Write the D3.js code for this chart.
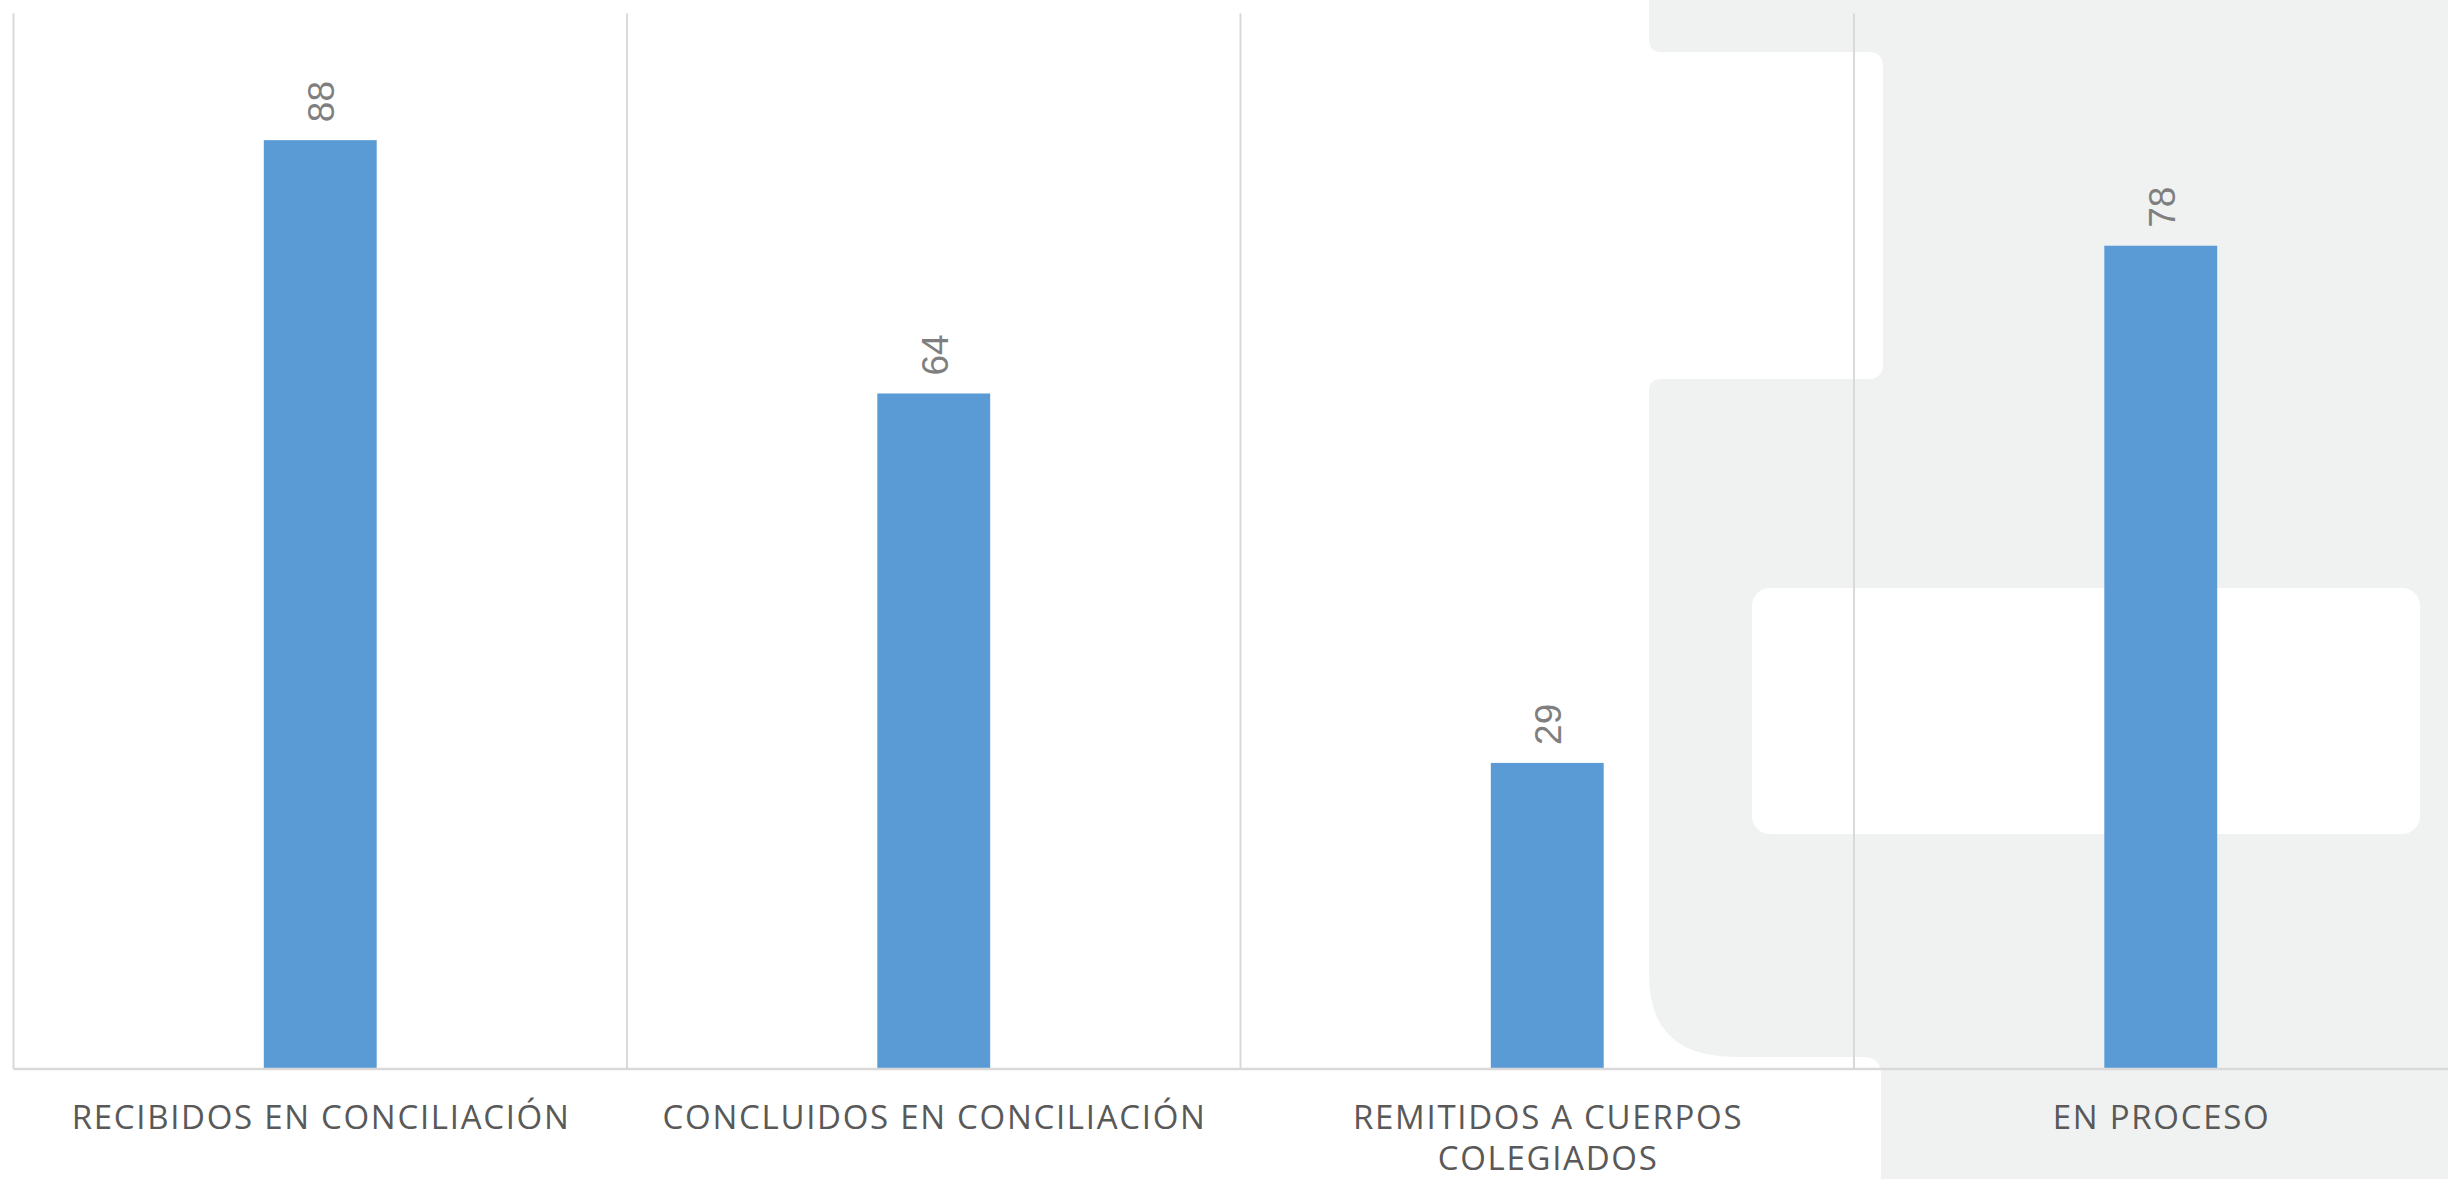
<!DOCTYPE html>
<html>
<head>
<meta charset="utf-8">
<script src="https://cdn.jsdelivr.net/npm/d3@7"></script>
<style>
  body { margin: 0; background: #fff; overflow: hidden; }
  svg { display: block; }
</style>
</head>
<body>
<div id="chart"></div>
<script>
// categories and values
var categories = ["RECIBIDOS EN CONCILIACIÓN", "CONCLUIDOS EN CONCILIACIÓN", "REMITIDOS A CUERPOS COLEGIADOS", "EN PROCESO"];
var values = [88, 64, 29, 78];
var yDomain = [0, 100];

var width = 2448,
	height = 1179;

var barColor = "#5b9bd5",
	gridColor = "#d9d9d9",
	shapeColor = "#f0f2f1";

var svg = d3.select("#chart").append("svg")
	.attr("width", width)
	.attr("height", height)
	.style("background", "#fff");

// slide background decoration (grey block with white notches)
var deco = svg.append("g");
deco.append("path")
	.attr("fill", shapeColor)
	.attr("d", "M1649,0 H2448 V1179 H1881 V1075 Q1881,1057 1863,1057 H1735 Q1649,1057 1649,975 " +
		"V391 Q1649,379 1661,379 H1868 Q1883,379 1883,364 V67 Q1883,52 1868,52 H1661 Q1649,52 1649,40 Z");
deco.append("rect")
	.attr("x", 1752).attr("y", 588)
	.attr("width", 668).attr("height", 246)
	.attr("rx", 18)
	.attr("fill", "#fff");

var xScale = d3.scaleBand()
	.domain(d3.range(categories.length))
	.range([13.5, 2467.5])
	.paddingInner(0)
	.paddingOuter(0);

var yScale = d3.scaleLinear()
	.domain(yDomain)
	.range([1069, 13.5]);

var barWidth = xScale.bandwidth() * 0.184;

// vertical grid lines at category boundaries
svg.append("g")
	.selectAll("line").data(d3.range(categories.length))
	.enter().append("line")
		.attr("x1", function(d){ return xScale(d); })
		.attr("x2", function(d){ return xScale(d); })
		.attr("y1", yScale(yDomain[1]))
		.attr("y2", yScale(0))
		.attr("stroke", gridColor)
		.attr("stroke-width", 2);

// bars
svg.append("g")
	.selectAll("rect").data(values)
	.enter().append("rect")
		.attr("x", function(d,i){ return xScale(i) + xScale.bandwidth()/2 - barWidth/2; })
		.attr("width", barWidth)
		.attr("y", function(d){ return yScale(d); })
		.attr("height", function(d){ return yScale(0) - yScale(d); })
		.attr("fill", barColor);

// baseline
svg.append("line")
	.attr("x1", 13.5).attr("x2", width)
	.attr("y1", yScale(0)).attr("y2", yScale(0))
	.attr("stroke", gridColor)
	.attr("stroke-width", 2.5);

// value labels, rotated
svg.append("g")
	.selectAll("text").data(values)
	.enter().append("text")
		.attr("transform", function(d,i){
			var cx = xScale(i) + xScale.bandwidth()/2;
			return "translate(" + (cx + 14) + "," + (yScale(d) - 18) + ") rotate(-90)";
		})
		.attr("text-anchor", "start")
		.style("font-family", "'Liberation Sans', Arial, sans-serif")
		.style("font-size", "37px")
		.style("fill", "#7f7f7f")
		.text(function(d){ return d; });

// category labels, wrapped to the band width
var spacing = 1.7;
var catLabels = svg.append("g")
	.selectAll("text").data(categories)
	.enter().append("text")
		.attr("x", function(d,i){ return xScale(i) + xScale.bandwidth()/2 + spacing/2; })
		.attr("y", 1129)
		.attr("text-anchor", "middle")
		.style("font-family", "'Open Sans', sans-serif")
		.style("font-size", "33px")
		.style("letter-spacing", spacing + "px")
		.style("fill", "#595959");

catLabels.each(function(d,i){
	var el = d3.select(this),
		words = d.split(" "),
		maxW = xScale.bandwidth() - 40,
		line = [],
		lineNo = 0,
		cx = +el.attr("x"),
		tspan = el.append("tspan").attr("x", cx).attr("y", 1129);
	words.forEach(function(w){
		line.push(w);
		tspan.text(line.join(" "));
		if (tspan.node().getComputedTextLength() > maxW && line.length > 1) {
			line.pop();
			tspan.text(line.join(" "));
			line = [w];
			lineNo++;
			tspan = el.append("tspan").attr("x", cx).attr("y", 1129 + lineNo*41).text(w);
		}
	});
});
</script>
</body>
</html>
